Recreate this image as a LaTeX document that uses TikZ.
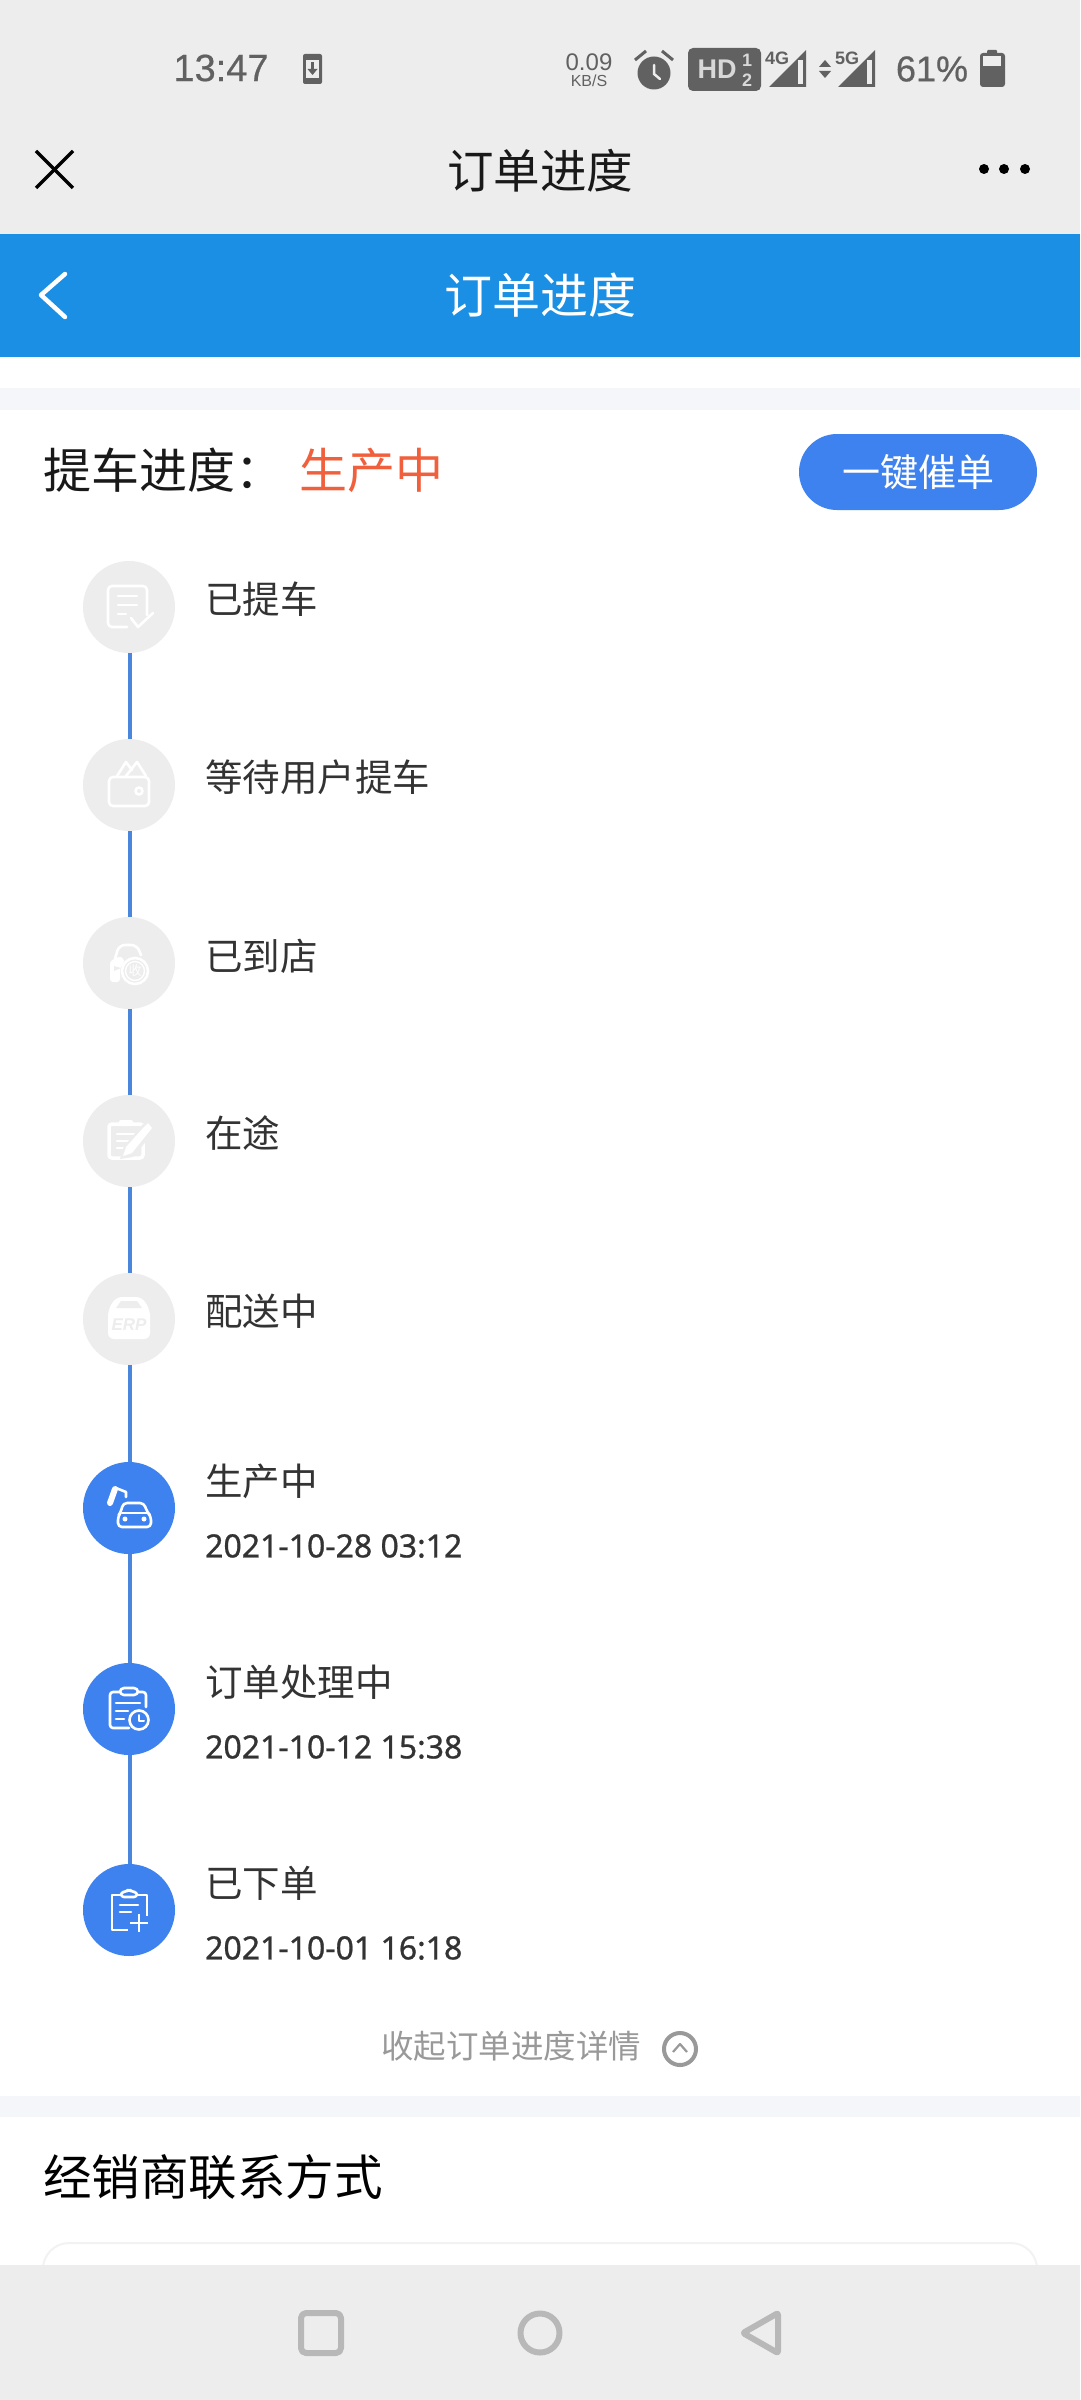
\documentclass[tikz,border=0pt]{standalone}
\usepackage{fontspec}
\setmainfont{Liberation Sans}
\newfontfamily\cjk{Noto Sans CJK SC}
\newfontfamily\rob[FakeBold=0.8]{Noto Sans}
\newfontfamily\stf[FakeBold=0.5]{Liberation Sans}
\newcommand{\fs}[1]{\fontsize{#1}{#1}\selectfont}
\definecolor{barg}{HTML}{EDEDED}
\definecolor{hdrb}{HTML}{1A8FE3}
\definecolor{strip}{HTML}{F5F6FA}
\definecolor{actb}{HTML}{3E82F0}
\definecolor{linb}{HTML}{4A86DC}
\definecolor{stat}{HTML}{616161}
\definecolor{redt}{HTML}{F0603C}
\definecolor{txt}{HTML}{333333}
\definecolor{navg}{HTML}{B8B8B8}
\definecolor{cardl}{HTML}{F2F2F2}
\tikzset{
  lab/.style={anchor=west,inner sep=0pt,text=txt,font=\cjk\fs{37.5}},
  dat/.style={anchor=west,inner sep=0pt,text=txt,font=\rob\fs{32}},
  off/.style={circle,fill=barg,minimum size=92pt,inner sep=0pt},
  on/.style={circle,fill=actb,minimum size=92pt,inner sep=0pt},
  ic/.style={draw=white,line width=2.6pt,line join=round,line cap=round,fill=none},
  stt/.style={inner sep=0pt,text=stat},
  conn/.style={draw=linb,line width=3.2pt},
  navi/.style={draw=navg,line width=6pt,line join=round}
}
\begin{document}
\begin{tikzpicture}[x=1pt,y=-1pt]
\useasboundingbox (0,0) rectangle (1080,2400);
\fill[white] (0,0) rectangle (1080,2400);
% bars
\fill[barg] (0,0) rectangle (1080,234);
\fill[hdrb] (0,234) rectangle (1080,357);
\fill[strip] (0,388) rectangle (1080,410);
\fill[strip] (0,2096) rectangle (1080,2117);
\draw[cardl,line width=2pt,rounded corners=26pt] (43,2300) -- (43,2243) -- (1037,2243) -- (1037,2300);
\fill[barg] (0,2265) rectangle (1080,2400);
% status bar
\node[stt,font=\stf\fs{38}] (clock) at (221,68) {13:47};
\fill[stat,rounded corners=2pt] (303,54) rectangle (322,84);
\fill[barg] (306,60) rectangle (319,78);
\fill[stat] (311,62) rectangle (314,70);
\fill[stat] (307.5,69) -- (317.5,69) -- (312.5,75) -- cycle;
\node[stt,font=\fs{24}] (speed) at (589,62) {0.09};
\node[stt,font=\fs{16}] (unit) at (589,81) {KB/S};
% alarm
\fill[stat] (654,73) circle (16.5);
\draw[barg,line width=2.5pt,line cap=round] (654,65) -- (654,74) -- (660,79);
\draw[stat,line width=3pt] (635,60) -- (646,51);
\draw[stat,line width=3pt] (673,60) -- (662,51);
% HD
\fill[stat,rounded corners=5pt] (688,48) rectangle (761,91);
\node[inner sep=0pt,text=barg!85!stat,font=\bfseries\fs{27}] (hd) at (717,69) {HD};
\node[inner sep=0pt,text=barg!85!stat,font=\bfseries\fs{18}] (hd1) at (747,60) {1};
\node[inner sep=0pt,text=barg!85!stat,font=\bfseries\fs{18}] (hd2) at (747,80) {2};
% signal 1
\node[stt,font=\bfseries\fs{18}] (g4) at (777,58) {4G};
\fill[stat] (769,87) -- (806,87) -- (806,50) -- cycle;
\fill[barg] (798,60) rectangle (803,84);
% arrows
\fill[stat] (819,67) -- (831,67) -- (825,60) -- cycle;
\fill[stat] (819,71) -- (831,71) -- (825,78) -- cycle;
% signal 2
\node[stt,font=\bfseries\fs{18}] (g5) at (847,58) {5G};
\fill[stat] (838,87) -- (875,87) -- (875,50) -- cycle;
\fill[barg] (867,60) rectangle (872,84);
\node[stt,font=\stf\fs{36}] (pct) at (932,69) {61\%};
% battery
\fill[stat,rounded corners=1pt] (987,50) rectangle (997,56);
\fill[stat,rounded corners=3pt] (980,53) rectangle (1005,87);
\fill[barg] (983,56) rectangle (1001,66);
% title bar
\draw[black,line width=3.2pt] (36,151) -- (73,188);
\draw[black,line width=3.2pt] (73,151) -- (36,188);
\node[inner sep=0pt,text=black!90,font=\cjk\fs{46.5}] (t1) at (540,171) {订单进度};
\fill[black] (984,169) circle (5) (1004,169) circle (5) (1025,169) circle (5);
% header
\draw[white,line width=4.5pt,line cap=round,line join=round] (65,274) -- (41,295) -- (65,317);
\node[inner sep=0pt,text=white,font=\cjk\fs{48}] (t2) at (540,295) {订单进度};
% progress head
\node[anchor=west,inner sep=0pt,text=black!90,font=\cjk\fs{48}] (prog) at (43,470) {提车进度：};
\node[anchor=west,inner sep=0pt,text=redt,font=\cjk\fs{48}] (stage) at (299,470) {生产中};
\node[rounded corners=38pt,fill=actb,minimum width=238pt,minimum height=76pt,inner sep=0pt,text=white,font=\cjk\fs{38}] (btn) at (918,472) {一键催单};
% circles
\node[off] (c1) at (129,607) {};
\node[off] (c2) at (129,785) {};
\node[off] (c3) at (129,963) {};
\node[off] (c4) at (129,1141) {};
\node[off] (c5) at (129,1319) {};
\node[on] (c6) at (129,1508) {};
\node[on] (c7) at (129,1709) {};
\node[on] (c8) at (129,1910) {};
\foreach \a/\b in {c1/c2,c2/c3,c3/c4,c4/c5,c5/c6,c6/c7,c7/c8}
  \draw[conn] ([xshift=1pt]\a.south) -- ([xshift=1pt]\b.north);
% labels
\node[lab] (l1) at (205,599) {已提车};
\node[lab] (l2) at (205,777) {等待用户提车};
\node[lab] (l3) at (205,956) {已到店};
\node[lab] (l4) at (205,1133) {在途};
\node[lab] (l5) at (205,1311) {配送中};
\node[lab] (l6) at (205,1481) {生产中};
\node[dat] (d6) at (205,1546) {2021-10-28 03:12};
\node[lab] (l7) at (205,1682) {订单处理中};
\node[dat] (d7) at (205,1747) {2021-10-12 15:38};
\node[lab] (l8) at (205,1883) {已下单};
\node[dat] (d8) at (205,1948) {2021-10-01 16:18};
% icon 1: document check
\begin{scope}[shift={(129,607)}]
\draw[ic,rounded corners=4pt] (18,8) -- (18,-21) -- (-21,-21) -- (-21,20) -- (-2,20);
\draw[ic] (-11,-11) -- (8,-11) (-11,-2) -- (8,-2) (-11,7) -- (-3,7);
\draw[ic] (2,11) -- (9,20) -- (24,6);
\end{scope}
% icon 2: wallet
\begin{scope}[shift={(129,785)}]
\draw[ic,rounded corners=4pt] (-20,-8) rectangle (20,21);
\draw[ic] (-12,-9) -- (-3,-23) -- (3,-15) (-3,-9) -- (8,-23) -- (17,-9);
\draw[ic] (10,6) circle (3.5);
\end{scope}
% icon 3: car with seal
\begin{scope}[shift={(129,963)}]
\fill[white,rounded corners=3pt] (-19,-2) -- (-8,-7) -- (-4,-2) -- (-9,5) -- (-9,19) -- (-19,19) -- cycle;
\fill[barg] (-15,3) -- (-8,5) -- (-15,8) -- cycle;
\draw[ic,rounded corners=6pt] (-14,-4) -- (-10,-18) -- (8,-18) -- (12,-8);
\draw[ic] (6,8) circle (13);
\draw[white,line width=1.4pt] (6,8) circle (9.5);
\node[inner sep=0pt,text=white,font=\cjk\fs{13}] (seal) at (6,8) {收};
\end{scope}
% icon 4: notepad and pen
\begin{scope}[shift={(129,1141)}]
\draw[ic,rounded corners=3pt,line width=3.5pt] (-20,-17) rectangle (14,17);
\fill[white,rounded corners=2pt] (-10,-21) rectangle (4,-15);
\draw[ic] (-12,-7) -- (6,-7) (-12,0) -- (2,0) (-12,7) -- (-5,7);
\fill[barg] (-9,18) -- (-5,5) -- (14,-17) -- (24,-8) -- (4,16) -- cycle;
\fill[white] (-6,15) -- (-3,6) -- (15,-14) -- (19,-18) -- (23,-13) -- (3,12) -- cycle;
\end{scope}
% icon 5: ERP box
\begin{scope}[shift={(129,1319)}]
\fill[white,rounded corners=6pt] (-21,-9) -- (-13,-22) -- (13,-22) -- (21,-9) -- (21,20) -- (-21,20) -- cycle;
\fill[barg] (-13,-11) -- (-8,-18) -- (8,-18) -- (13,-11) -- cycle;
\node[inner sep=0pt,text=barg,font=\bfseries\itshape\fs{17}] (erp) at (0,6) {ERP};
\end{scope}
% icon 6: robot arm and car
\begin{scope}[shift={(129,1508)}]
\draw[white,line width=6pt,line cap=round] (-19,-5) -- (-14,-19);
\draw[ic] (-13,-20) -- (-3,-16) -- (-3,-11);
\draw[ic,rounded corners=4pt] (-6,-5) -- (15,-5) -- (18,4) -- (22,8) -- (22,19) -- (-11,19) -- (-11,8) -- (-8,4) -- cycle;
\draw[ic,line width=2.2pt] (-7,5) -- (18,5);
\fill[white] (-4,11) circle (2.5) (15,11) circle (2.5);
\end{scope}
% icon 7: clipboard clock
\begin{scope}[shift={(129,1709)}]
\draw[ic,rounded corners=3pt] (17,-2) -- (17,-17) -- (-19,-17) -- (-19,19) -- (0,19);
\draw[ic,rounded corners=4pt,fill=actb] (-9,-21) rectangle (9,-14);
\draw[ic] (-13,-6) -- (11,-6) (-13,2) -- (-1,2) (-13,10) -- (-5,10);
\draw[ic,fill=actb] (10,11) circle (9.5);
\draw[ic,line width=2pt] (10,6) -- (10,12) -- (15,12);
\end{scope}
% icon 8: clipboard plus
\begin{scope}[shift={(129,1910)}]
\draw[ic,line cap=butt] (18,6) -- (18,-15) -- (-17,-15) -- (-17,20) -- (-1,20);
\draw[ic,rounded corners=3pt,fill=actb] (-8,-13) -- (-8,-18) -- (-3,-18) -- (0,-21) -- (3,-18) -- (8,-18) -- (8,-13) -- cycle;
\draw[ic] (-9,-5) -- (9,-5) (-9,2) -- (2,2);
\draw[ic,line cap=butt] (1,13) -- (19,13) (10,4) -- (10,22);
\end{scope}
% footer
\node[inner sep=0pt,text=black!40,font=\cjk\fs{32.5}] (coll) at (511,2046) {收起订单进度详情};
\node[circle,draw=black!40,line width=4pt,minimum size=32pt,inner sep=0pt] (collc) at (680,2049) {};
\draw[black!40,line width=2.2pt,line join=round] (673,2052) -- (680,2044) -- (687,2052);
\node[anchor=west,inner sep=0pt,text=black,font=\cjk\fs{48.5}] (dealer) at (43,2177) {经销商联系方式};
% nav
\draw[navi,rounded corners=5pt] (301,2313) rectangle (341,2353);
\draw[navi] (540,2333) circle (19.5);
\draw[navi,rounded corners=2pt] (778,2313) -- (778,2353) -- (743,2333) -- cycle;
\end{tikzpicture}
\end{document}
